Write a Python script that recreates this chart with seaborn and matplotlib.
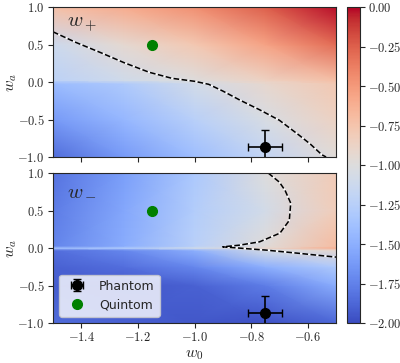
import numpy as np
import pandas as pd
import matplotlib
matplotlib.use('Agg')
import matplotlib.pyplot as plt
import seaborn as sns
from matplotlib.ticker import FuncFormatter

# grid
w0_grid = [-1.5, -1.25, -1.0, -0.75, -0.5]

wa_plus_grid = [-1.0, -0.5, -0.02, 0.02, 0.5, 1.0]
w_plus = [
    [-1.85, -1.62, -1.40, -1.18, -0.97],
    [-1.62, -1.45, -1.25, -1.04, -0.86],
    [-1.42, -1.30, -1.08, -0.92, -0.78],
    [-1.22, -1.10, -1.00, -0.86, -0.72],
    [-1.12, -0.93, -0.78, -0.55, -0.30],
    [-0.72, -0.60, -0.45, -0.25, -0.02],
]

wa_minus_grid = [-1.0, -0.5, -0.25, -0.03, 0.0, 0.03, 0.5, 1.0]
w_minus = [
    [-1.85, -1.90, -1.95, -1.97, -1.88],
    [-1.92, -1.95, -1.90, -1.78, -1.52],
    [-1.90, -1.84, -1.72, -1.50, -1.30],
    [-1.84, -1.72, -1.50, -1.05, -0.93],
    [-1.38, -1.30, -1.10, -0.92, -0.62],
    [-1.74, -1.52, -1.25, -0.98, -0.70],
    [-1.78, -1.55, -1.28, -1.08, -0.82],
    [-1.82, -1.60, -1.32, -1.00, -0.80],
]

# w = -1 contours
cont_plus_w0 = [-1.5, -1.42, -1.33, -1.25, -1.16, -1.08, -1.0, -0.95, -0.9, -0.84,
                -0.77, -0.70, -0.63, -0.59, -0.55, -0.535]
cont_plus_wa = [0.67, 0.53, 0.39, 0.26, 0.13, 0.05, 0.01, -0.03, -0.12, -0.24,
                -0.37, -0.51, -0.71, -0.83, -0.97, -1.0]
cont_minus_w0 = [-0.739, -0.70, -0.68, -0.66, -0.665, -0.698, -0.77, -0.84, -0.90,
                 -0.80, -0.746, -0.627, -0.5]
cont_minus_wa = [1.0, 0.88, 0.77, 0.6, 0.37, 0.2, 0.084, 0.04, 0.017,
                 -0.012, -0.027, -0.071, -0.12]

phantom = (-0.75, -0.862)
phantom_err = (0.06, 0.22)
quintom = (-1.15, 0.5)

sns.set_style('ticks')
plt.rcParams['mathtext.fontset'] = 'cm'
plt.rcParams['font.family'] = ['DejaVu Sans']

fig = plt.figure(figsize=(4.0, 3.63), dpi=100)
ax1 = fig.add_axes([0.1325, 0.5675, 0.7075, 0.413])
ax2 = fig.add_axes([0.1325, 0.110, 0.7075, 0.413])
cax = fig.add_axes([0.8675, 0.110, 0.0325, 0.8705])

mfmt = FuncFormatter(lambda v, p: '$%.1f$' % v)

panels = [(ax1, wa_plus_grid, w_plus, cont_plus_w0, cont_plus_wa, r'$w_+$'),
          (ax2, wa_minus_grid, w_minus, cont_minus_w0, cont_minus_wa, r'$w_-$')]
for ax, wa_g, z, cx, cy, name in panels:
    X, Y = np.meshgrid(w0_grid, wa_g)
    mesh = ax.pcolormesh(X, Y, np.array(z), cmap='coolwarm', vmin=-2, vmax=0,
                         shading='gouraud', rasterized=True)
    df = pd.DataFrame({'w0': cx, 'wa': cy})
    sns.lineplot(data=df, x='w0', y='wa', sort=False, ax=ax, color='k',
                 linestyle='--', gapcolor='white', linewidth=1.1)
    eb = ax.errorbar(phantom[0], phantom[1], xerr=phantom_err[0], yerr=phantom_err[1],
                     fmt='o', color='k', ms=7, capsize=3, elinewidth=1.2,
                     label='Phantom')
    qd, = ax.plot(quintom[0], quintom[1], 'o', color='green', ms=7, label='Quintom')
    ax.text(-1.45, 0.78, name, fontsize=15, va='center')
    ax.set_xlim(-1.5, -0.5)
    ax.set_ylim(-1, 1)
    ax.set_xticks([-1.4, -1.2, -1.0, -0.8, -0.6])
    ax.set_yticks([-1.0, -0.5, 0.0, 0.5, 1.0])
    ax.yaxis.set_major_formatter(mfmt)
    ax.xaxis.set_major_formatter(mfmt)
    ax.tick_params(labelsize=9, pad=2.5)
    ax.set_ylabel(r'$w_a$', fontsize=11.5)
    ax.yaxis.set_label_coords(-0.12, 0.5)
    ax.set_xlabel('')

ax1.tick_params(labelbottom=False)
ax2.set_xlabel(r'$w_0$', fontsize=11.5)
ax2.xaxis.set_label_coords(0.5, -0.16)
ax2.legend([eb, qd], ['Phantom', 'Quintom'], loc='lower left', fontsize=9)

cb = fig.colorbar(mesh, cax=cax)
cb.set_ticks(np.arange(-2.0, 0.01, 0.25))
cb.ax.yaxis.set_major_formatter(FuncFormatter(lambda v, p: '$%.2f$' % v))
cb.ax.tick_params(labelsize=9, pad=2)

fig.savefig('out.png', dpi=100)
